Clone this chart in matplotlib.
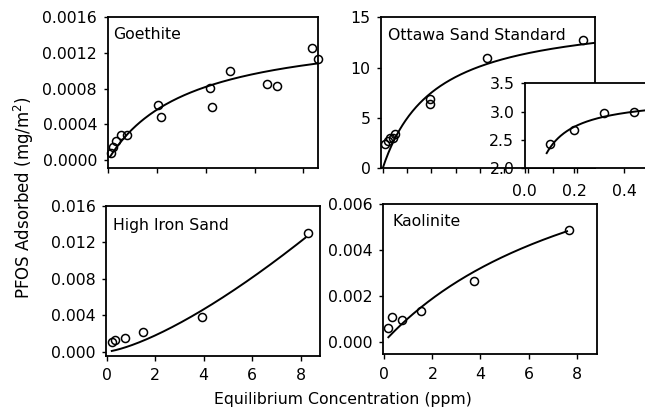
import matplotlib
matplotlib.use('Agg')
import matplotlib.pyplot as plt
import numpy as np

plt.rcParams['font.family'] = ['DejaVu Sans']

# ---------------- data ----------------
goethite_x = [0.12, 0.19, 0.34, 0.52, 0.77, 2.03, 2.19, 4.16, 4.27, 5.00, 6.51, 6.93, 8.34, 8.58]
goethite_y = [0.000082, 0.000149, 0.00021, 0.000284, 0.000277, 0.000613, 0.000485,
              0.000807, 0.00059, 0.000994, 0.000848, 0.000833, 0.00125, 0.00113]
goethite_fit = (0.0015, 0.30)          # Langmuir Q, K
goethite_fit_range = (0.08, 8.6)

ottawa_x = [0.10, 0.20, 0.32, 0.44, 0.52, 1.95, 1.95, 4.30, 8.25]
ottawa_y = [2.43, 2.67, 2.97, 2.99, 3.40, 6.90, 6.40, 11.0, 12.75]
ottawa_fit = (15.5, 0.47)               # Langmuir Q, K
ottawa_fit_range = (0.0, 8.75)
ottawa_inset_fit = (3.265, 25.7)        # Langmuir Q, K (low concentration)
ottawa_inset_fit_range = (0.0885, 0.6)

highiron_x = [0.21, 0.34, 0.75, 1.48, 3.92, 8.30]
highiron_y = [0.00105, 0.00129, 0.00155, 0.0022, 0.00385, 0.0130]
highiron_fit = (0.000685, 1.38)         # Freundlich Kf, n
highiron_fit_range = (0.21, 8.2)

kaolinite_x = [0.17, 0.33, 0.75, 1.52, 3.73, 7.68]
kaolinite_y = [0.000585, 0.00108, 0.00093, 0.00135, 0.00266, 0.00485]
kaolinite_fit = (0.0109, 0.104)         # Langmuir Q, K
kaolinite_fit_range = (0.17, 7.6)

x_ticks_2 = [0, 2, 4, 6, 8]
x_tick_labels_2 = ['0', '2', '4', '6', '8']
x_ticks_1 = [0, 1, 2, 3, 4, 5, 6, 7, 8]
goethite_yticks = [0.0, 0.0004, 0.0008, 0.0012, 0.0016]
goethite_ylabels = ['0.0000', '0.0004', '0.0008', '0.0012', '0.0016']
ottawa_yticks = [0, 5, 10, 15]
ottawa_ylabels = ['0', '5', '10', '15']
inset_xticks = [0.0, 0.2, 0.4]
inset_xlabels = ['0.0', '0.2', '0.4']
inset_yticks = [2.0, 2.5, 3.0, 3.5]
inset_ylabels = ['2.0', '2.5', '3.0', '3.5']
highiron_yticks = [0.0, 0.004, 0.008, 0.012, 0.016]
highiron_ylabels = ['0.000', '0.004', '0.008', '0.012', '0.016']
kaolinite_yticks = [0.0, 0.002, 0.004, 0.006]
kaolinite_ylabels = ['0.000', '0.002', '0.004', '0.006']

titles = ['Goethite', 'Ottawa Sand Standard', 'High Iron Sand', 'Kaolinite']
xlabel = 'Equilibrium Concentration (ppm)'
ylabel = 'PFOS Adsorbed (mg/m$^2$)'


def langmuir(x, q, k):
    return q * k * x / (1 + k * x)


def freundlich(x, kf, n):
    return kf * x ** n


FS = 11.3
LW_SPINE = 1.3
LW_CURVE = 1.4
MS = 5.8
MEW = 1.1


def style(ax, xt, xl, yt, yl, xpad=5.7):
    for s in ax.spines.values():
        s.set_linewidth(LW_SPINE)
        s.set_color('black')
    ax.set_xticks(xt)
    if xl is None:
        ax.set_xticklabels([])
    else:
        ax.set_xticklabels(xl)
    ax.set_yticks(yt)
    ax.set_yticklabels(yl)
    ax.tick_params(axis='both', direction='out', width=1.0, colors='black',
                   labelsize=FS)
    ax.tick_params(axis='x', length=3.5, pad=xpad)
    ax.tick_params(axis='y', length=3.0, pad=4.5)


def pts(ax, x, y, clip=False):
    ax.plot(x, y, linestyle='none', marker='o', markersize=MS,
            markerfacecolor='none', markeredgecolor='black',
            markeredgewidth=MEW, zorder=3, clip_on=clip)


fig = plt.figure(figsize=(6.45, 4.08), dpi=100)

# Goethite
ax1 = fig.add_axes([0.1667, 0.5882, 0.3264, 0.3701])
pts(ax1, goethite_x, goethite_y)
xc = np.linspace(*goethite_fit_range, 200)
ax1.plot(xc, langmuir(xc, *goethite_fit), color='black', lw=LW_CURVE)
ax1.set_xlim(-0.02, 8.6)
ax1.set_ylim(-0.0000895, 0.0016)
style(ax1, x_ticks_2, None, goethite_yticks, goethite_ylabels)
ax1.text(0.025, 0.856, titles[0], transform=ax1.transAxes, fontsize=FS,
         va='baseline', ha='left')

# Ottawa Sand Standard
ax2 = fig.add_axes([0.5907, 0.5875, 0.3322, 0.3701])
pts(ax2, ottawa_x, ottawa_y)
xc = np.linspace(*ottawa_fit_range, 300)
ax2.plot(xc, langmuir(xc, *ottawa_fit), color='black', lw=LW_CURVE)
ax2.set_xlim(-0.07, 8.75)
ax2.set_ylim(0, 15)
style(ax2, x_ticks_1, None, ottawa_yticks, ottawa_ylabels)
ax2.text(0.034, 0.85, titles[1], transform=ax2.transAxes, fontsize=FS,
         va='baseline', ha='left')

# Inset (low concentration, Ottawa)
ax_in = fig.add_axes([0.8135, 0.5875, 0.231, 0.2083])
ax_in.set_facecolor('white')
pts(ax_in, ottawa_x, ottawa_y, clip=True)
xc = np.linspace(*ottawa_inset_fit_range, 200)
ax_in.plot(xc, langmuir(xc, *ottawa_inset_fit), color='black', lw=LW_CURVE)
ax_in.set_xlim(0, 0.6)
ax_in.set_ylim(2.0, 3.5)
style(ax_in, inset_xticks, inset_xlabels, inset_yticks, inset_ylabels, xpad=8.0)

# High Iron Sand
ax3 = fig.add_axes([0.1643, 0.1282, 0.3318, 0.3676])
pts(ax3, highiron_x, highiron_y)
xc = np.linspace(*highiron_fit_range, 200)
ax3.plot(xc, freundlich(xc, *highiron_fit), color='black', lw=LW_CURVE)
ax3.set_xlim(-0.03, 8.8)
ax3.set_ylim(-0.00044, 0.016)
style(ax3, x_ticks_2, x_tick_labels_2, highiron_yticks, highiron_ylabels)
ax3.text(0.034, 0.838, titles[2], transform=ax3.transAxes, fontsize=FS,
         va='baseline', ha='left')

# Kaolinite
ax4 = fig.add_axes([0.5943, 0.1324, 0.3318, 0.3676])
pts(ax4, kaolinite_x, kaolinite_y)
xc = np.linspace(*kaolinite_fit_range, 200)
ax4.plot(xc, langmuir(xc, *kaolinite_fit), color='black', lw=LW_CURVE)
ax4.set_xlim(-0.04, 8.86)
ax4.set_ylim(-0.00054, 0.006)
style(ax4, x_ticks_2, x_tick_labels_2, kaolinite_yticks, kaolinite_ylabels)
ax4.text(0.042, 0.853, titles[3], transform=ax4.transAxes, fontsize=FS,
         va='baseline', ha='left')

fig.text(0.532, 0.009, xlabel, ha='center', va='baseline', fontsize=FS)
fig.text(0.037, 0.517, ylabel, ha='center', va='center', rotation=90, fontsize=12)

fig.savefig('out.png', dpi=100)
